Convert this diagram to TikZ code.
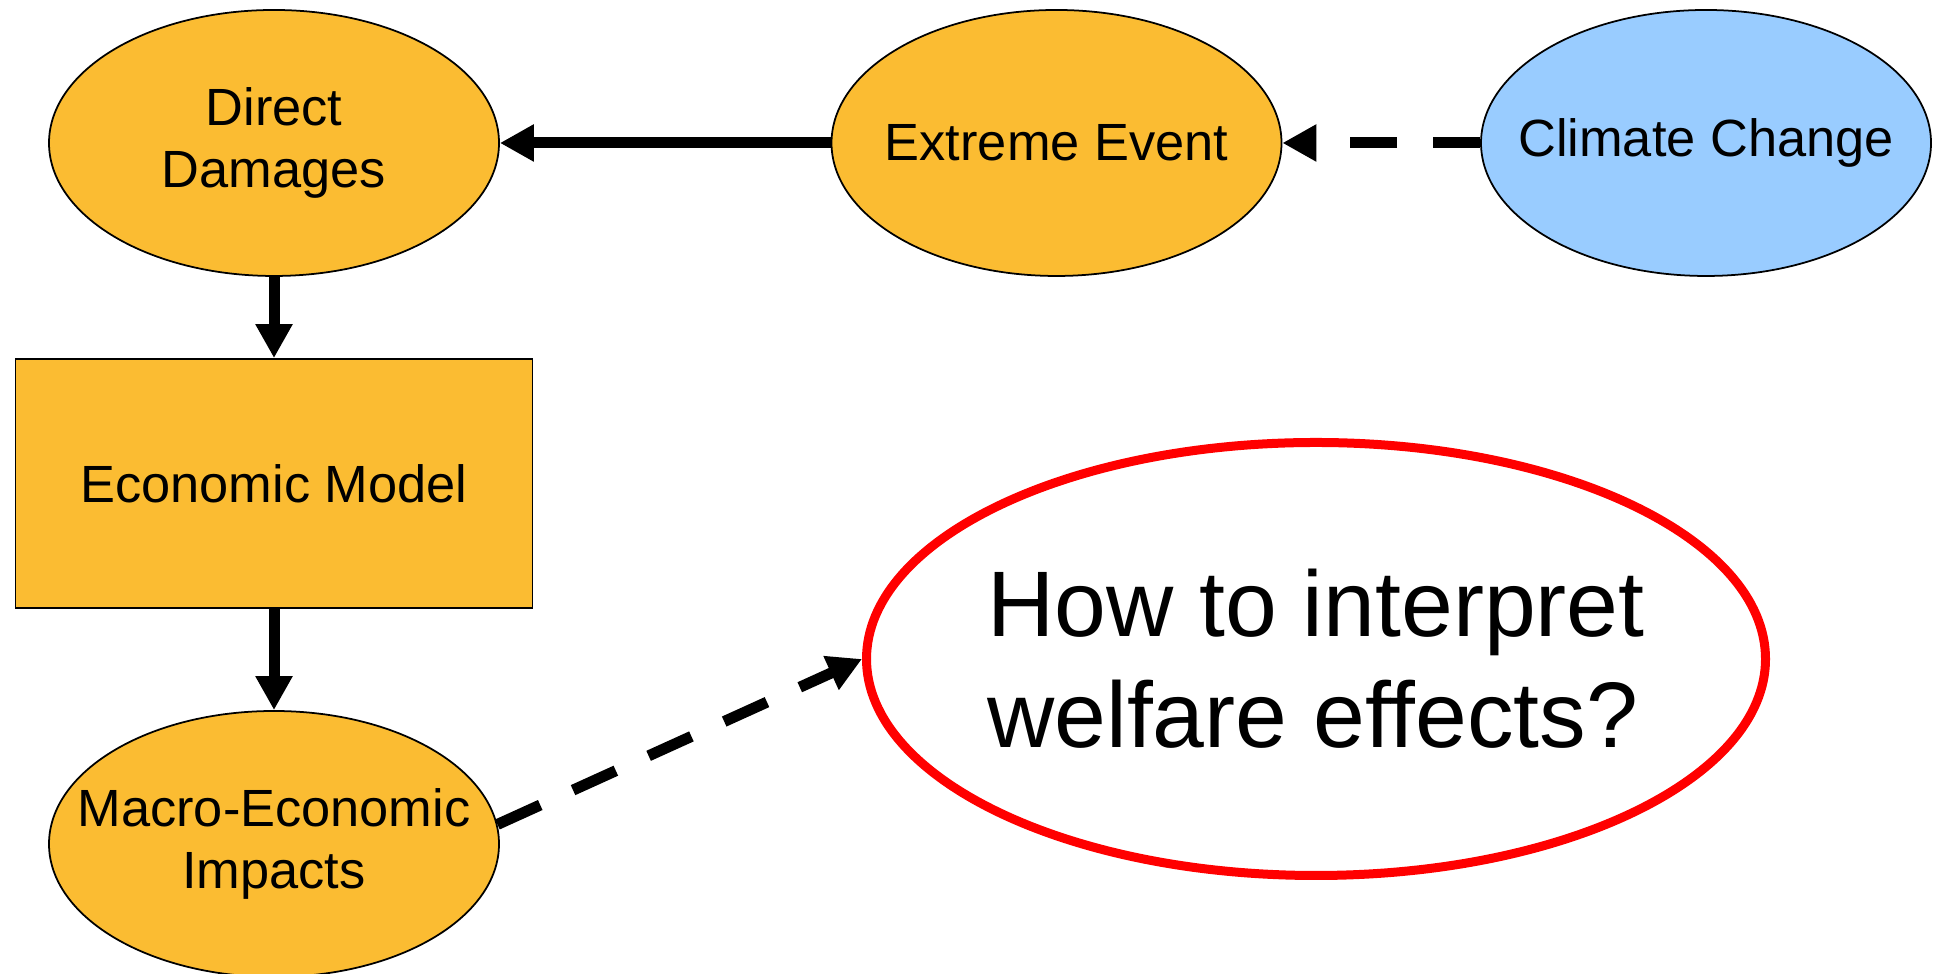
\documentclass[tikz,border=0pt]{standalone}
\usepackage{fontspec}
\setmainfont{Liberation Sans}
\definecolor{EventOrange}{RGB}{251, 188, 50}
\definecolor{ClimateBlue}{RGB}{153, 204, 255}
\definecolor{AlertRed}{RGB}{255, 0, 0}
\usetikzlibrary{arrows.meta, positioning, shapes.geometric}

\begin{document}
\begin{tikzpicture}[
    blob/.style={ellipse, draw, line width=0.5pt, fill=EventOrange, minimum width=4.5cm, minimum height=2.66cm, inner xsep=-1.2cm, inner ysep=0pt, align=center, font=\fontsize{14.9}{17.9}\selectfont},
    modelbox/.style={rectangle, draw, line width=0.5pt, fill=EventOrange, minimum width=5.17cm, minimum height=2.49cm, inner sep=0pt, font=\fontsize{14.9}{17.9}\selectfont},
    flow/.style={line width=0.11cm, -{Triangle[length=0.34cm, width=0.35cm]}},
    dashflow/.style={flow, dash pattern=on 0.47cm off 0.36cm}
]
            \useasboundingbox (0,0) rectangle (19.35,9.74);

            % top row
            \node[blob] (direct) at (2.74,8.31) {Direct\\Damages};
            \node[blob] (event) at (10.565,8.31) {Extreme Event};
            \node[blob, fill=ClimateBlue] (climate) at (17.06,8.31) {Climate Change};

            % model chain
            \node[modelbox] (model) at (2.74,4.905) {Economic Model};
            \node[blob] (macro) at (2.74,1.30) {Macro-Economic\\Impacts};

            % open question
            \node[ellipse, draw=AlertRed, line width=0.09cm, fill=white, minimum width=8.99cm, minimum height=4.33cm, inner xsep=-2cm, inner ysep=0pt, align=left, font=\fontsize{26.5}{31.6}\selectfont] (question) at (13.16,3.15) {How to interpret\\welfare effects?};

            % connectors
            \draw[dashflow] (climate) -- (event);
            \draw[flow] (event) -- (direct);
            \draw[flow] (direct) -- (model);
            \draw[flow] (model) -- (macro);
            \draw[dashflow] (macro.5) -- (question.west);
\end{tikzpicture}
\end{document}
